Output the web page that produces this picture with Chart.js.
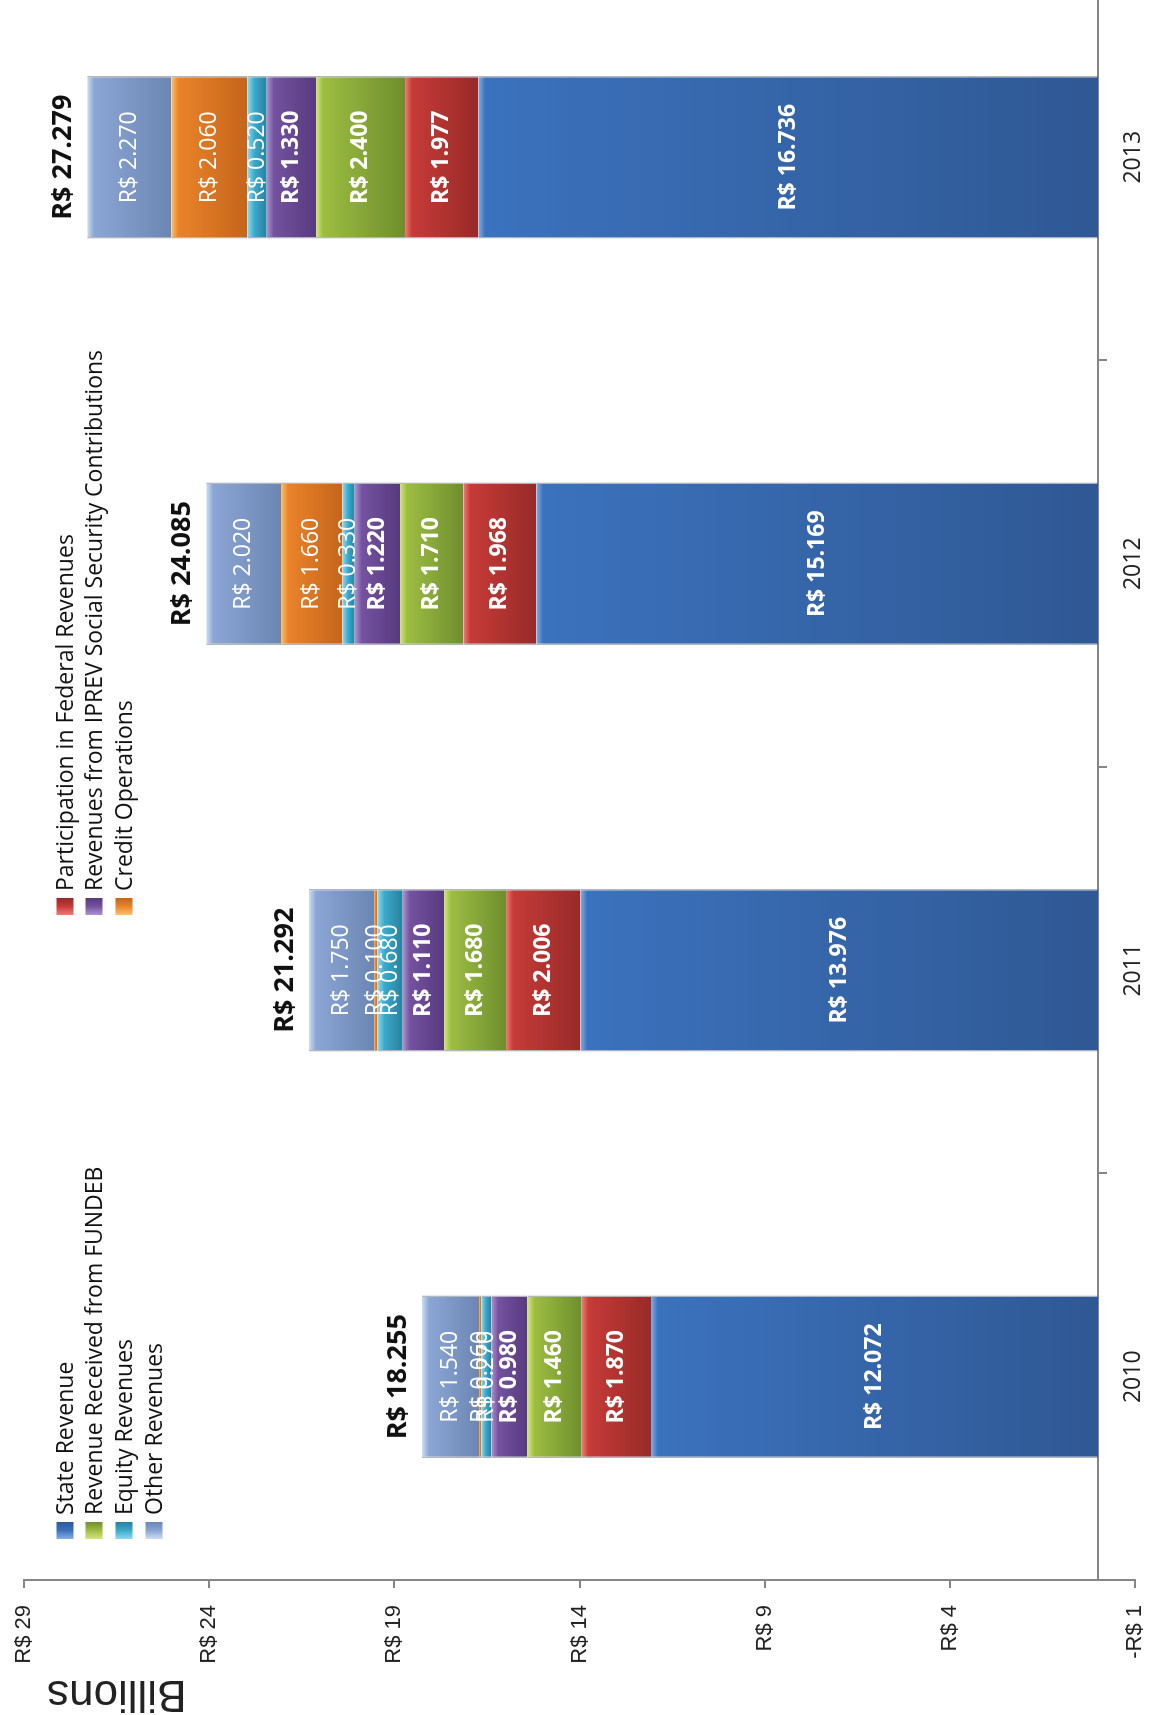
<!DOCTYPE html>
<html>
<head>
<meta charset="utf-8">
<script src="https://cdn.jsdelivr.net/npm/chart.js@4"></script>
<style>
html, body { margin: 0; padding: 0; background: #fff; }
body { width: 1154px; height: 1715px; overflow: hidden; position: relative; }
/* the chart is drawn upright, then turned a quarter left like the scan */
#turn {
    position: absolute; left: 0; top: 0;
    width: 1770px; height: 1154px;
    transform-origin: 0 0;
    transform: translate(0, 1715px) rotate(-90deg);
}
</style>
</head>
<body>
<div id="turn"><canvas id="revenue-chart" width="1770" height="1154"></canvas></div>
<script>
const YEARS         = ['2010', '2011', '2012', '2013'];
const STATE_REVENUE = [12.072, 13.976, 15.169, 16.736];
const FEDERAL_SHARE = [1.870, 2.006, 1.968, 1.977];
const FUNDEB        = [1.460, 1.680, 1.710, 2.400];
const IPREV         = [0.980, 1.110, 1.220, 1.330];
const EQUITY        = [0.270, 0.680, 0.330, 0.520];
const CREDIT_OPS    = [0.060, 0.100, 1.660, 2.060];
const OTHER         = [1.540, 1.750, 2.020, 2.270];
const TOTALS        = [18.255, 21.292, 24.085, 27.279];
const VALUE_TICKS   = [-1, 4, 9, 14, 19, 24, 29];

// stacked from the axis outwards; colours are [edge, body, shade]
const SERIES = [
    { label: 'State Revenue',                                    data: STATE_REVENUE, bold: true,  colors: ['#86aee0', '#3b72bd', '#2f5894'] },
    { label: 'Participation in Federal Revenues',                data: FEDERAL_SHARE, bold: true,  colors: ['#ef7c78', '#c63b38', '#982a28'] },
    { label: 'Revenue Received from FUNDEB',                     data: FUNDEB,        bold: true,  colors: ['#d3e57c', '#9dbd42', '#6e8e2e'] },
    { label: 'Revenues from IPREV Social Security Contributions', data: IPREV,        bold: true,  colors: ['#ad94d0', '#74529f', '#573a7e'] },
    { label: 'Equity Revenues',                                  data: EQUITY,        bold: false, colors: ['#8ed8ee', '#3aa9cb', '#27809e'] },
    { label: 'Credit Operations',                                data: CREDIT_OPS,    bold: false, colors: ['#fbc26a', '#ea832a', '#c4651b'] },
    { label: 'Other Revenues',                                   data: OTHER,         bold: false, colors: ['#cddcf2', '#8ba6d4', '#6c86b4'] },
];

const LEGEND_COLS = [176, 800];
const LEGEND_ROWS = [65, 94, 124, 154];

function money(v) {
    return 'R$ ' + v.toFixed(3);
}

function segmentFill(s) {
    return ctx => {
        const y = ctx.chart.scales.y;
        if (ctx.type !== 'data' || !y) return s.colors[1];
        let lo = 0;
        for (let d = 0; d < ctx.datasetIndex; d++) lo += SERIES[d].data[ctx.dataIndex];
        const top = y.getPixelForValue(lo + ctx.raw);
        const bot = y.getPixelForValue(lo);
        if (!isFinite(top) || !isFinite(bot) || bot - top < 1) return s.colors[1];
        const g = ctx.chart.ctx.createLinearGradient(0, top, 0, bot);
        g.addColorStop(0, s.colors[0]);
        g.addColorStop(Math.min(0.45, 7 / (bot - top)), s.colors[1]);
        g.addColorStop(1, s.colors[2]);
        return g;
    };
}

const segmentLabels = {
    id: 'segmentLabels',
    afterDatasetsDraw(chart) {
        const c = chart.ctx;
        c.save();
        c.textAlign = 'center';
        c.textBaseline = 'middle';
        c.fillStyle = '#ffffff';
        SERIES.forEach((s, d) => {
            c.font = (s.bold ? 'bold ' : '') + '23px "Open Sans"';
            chart.getDatasetMeta(d).data.forEach((bar, i) => {
                c.fillText(money(s.data[i]), bar.x, (bar.y + bar.base) / 2);
            });
        });
        const y = chart.scales.y;
        c.font = 'bold 27px "Open Sans"';
        c.fillStyle = '#111';
        chart.getDatasetMeta(0).data.forEach((bar, i) => {
            c.fillText(money(TOTALS[i]), bar.x, y.getPixelForValue(TOTALS[i]) - 24);
        });
        c.restore();
    }
};

const sideNotes = {
    id: 'sideNotes',
    afterDraw(chart) {
        const c = chart.ctx;
        c.save();
        // legend, two columns, read row by row
        c.font = '23px "Open Sans"';
        c.textAlign = 'left';
        c.textBaseline = 'middle';
        SERIES.forEach((s, i) => {
            const x = LEGEND_COLS[i % 2];
            const y = LEGEND_ROWS[Math.floor(i / 2)];
            const g = c.createLinearGradient(x, 0, x + 17, 0);
            g.addColorStop(0, s.colors[0]);
            g.addColorStop(0.5, s.colors[1]);
            g.addColorStop(1, s.colors[2]);
            c.fillStyle = g;
            c.fillRect(x, y - 8.5, 17, 17);
            c.fillStyle = '#111';
            c.fillText(s.label, x + 24, y + 1);
        });
        // display-units label, upright along the value axis
        c.translate(22, 47);
        c.rotate(-Math.PI / 2);
        c.font = '44px "Liberation Sans", Arial';
        c.textAlign = 'right';
        c.fillStyle = '#222';
        c.fillText('Billions', 0, 0);
        c.restore();
    }
};

new Chart(document.getElementById('revenue-chart'), {
    type: 'bar',
    data: {
        labels: YEARS,
        datasets: SERIES.map(s => ({
            label: s.label,
            data: s.data,
            backgroundColor: segmentFill(s),
            borderColor: 'rgba(30, 40, 60, 0.35)',
            borderWidth: { left: 1.5, right: 1.5, top: 0, bottom: 0 },
            borderSkipped: false,
            categoryPercentage: 0.8,
            barPercentage: 0.5,
        })),
    },
    options: {
        responsive: false,
        animation: false,
        layout: { padding: { top: 24, right: 9, bottom: 19, left: 0 } },
        plugins: {
            legend: { display: false },
            tooltip: { enabled: false },
        },
        scales: {
            x: {
                stacked: true,
                position: { y: 0 },
                afterFit: sc => { sc.paddingTop = 0; sc.paddingBottom = 0; },
                grid:   { drawOnChartArea: false, offset: true, tickLength: 8, color: '#868686', lineWidth: 2 },
                border: { color: '#868686', width: 2 },
                ticks:  { padding: 14, color: '#222', maxRotation: 0, font: { family: '"Open Sans"', size: 23 } },
            },
            y: {
                stacked: true,
                min: -1,
                max: 29,
                afterBuildTicks: sc => { sc.ticks = VALUE_TICKS.map(v => ({ value: v })); },
                afterFit: sc => { sc.width = 135; sc.paddingTop = 0; sc.paddingBottom = 0; },
                grid:   { drawOnChartArea: false, tickLength: 8, color: '#868686', lineWidth: 2 },
                border: { color: '#868686', width: 2 },
                ticks:  {
                    padding: 17,
                    color: '#222',
                    font: { family: '"Liberation Sans", Arial', size: 22 },
                    callback: v => (v < 0 ? '-R$ ' + (-v) : 'R$ ' + v),
                },
            },
        },
    },
    plugins: [segmentLabels, sideNotes],
});
</script>
</body>
</html>
